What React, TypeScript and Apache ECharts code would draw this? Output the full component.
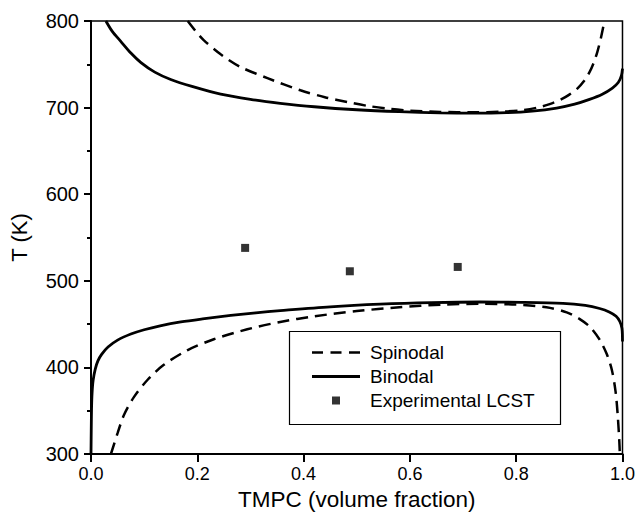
import React, { useEffect, useRef } from "react";
import * as echarts from "echarts";

const upperBinodal: [number, number][] = [
  [0.028, 800], [0.04, 788], [0.056, 776.5], [0.075, 763], [0.094, 752], [0.12, 741],
  [0.15, 732.5], [0.19, 724.5], [0.244, 715.5], [0.3, 709.5], [0.356, 705], [0.42, 701],
  [0.5, 697.5], [0.58, 695.3], [0.657, 694], [0.72, 693.6], [0.782, 694.2], [0.83, 696],
  [0.876, 699.5], [0.91, 704], [0.938, 709.5], [0.962, 715.5], [0.981, 722.6], [0.992, 729],
  [0.998, 737], [1.0, 745],
];

const upperSpinodal: [number, number][] = [
  [0.182, 800], [0.196, 789], [0.212, 778], [0.244, 761.5], [0.281, 747], [0.332, 734],
  [0.394, 720], [0.44, 712], [0.482, 706.5], [0.52, 702], [0.563, 698.5], [0.6, 696.5],
  [0.657, 695], [0.72, 694.5], [0.77, 695.3], [0.812, 697], [0.84, 700], [0.863, 704],
  [0.883, 709], [0.9, 715], [0.915, 722], [0.928, 731], [0.938, 741], [0.946, 752],
  [0.953, 765], [0.96, 782], [0.966, 800],
];

const lowerBinodal: [number, number][] = [
  [0.0, 300], [0.0005, 330], [0.001, 352], [0.002, 370], [0.004, 385], [0.008, 398],
  [0.013, 407.5], [0.02, 415], [0.032, 423.5], [0.05, 431.5], [0.075, 438.5], [0.1, 443.5],
  [0.13, 448], [0.169, 452.5], [0.21, 456], [0.263, 460], [0.31, 463], [0.356, 465.5],
  [0.45, 470], [0.544, 473], [0.64, 474.8], [0.732, 475.5], [0.81, 475.2], [0.888, 474],
  [0.93, 471.5], [0.957, 468], [0.975, 464], [0.988, 459], [0.995, 453], [0.999, 445],
  [1.0, 430],
];

const lowerSpinodal: [number, number][] = [
  [0.0375, 300], [0.05, 324], [0.062, 345], [0.081, 366], [0.107, 386], [0.137, 403],
  [0.182, 420], [0.231, 432.5], [0.294, 444], [0.356, 452.5], [0.42, 459], [0.5, 465],
  [0.58, 469.5], [0.66, 472.5], [0.732, 473.5], [0.8, 472.5], [0.857, 469.5], [0.895, 463.5],
  [0.919, 456], [0.94, 446], [0.957, 432], [0.97, 416], [0.98, 397], [0.987, 372],
  [0.991, 345], [0.994, 315], [0.995, 300],
];

const experimentalLCST: [number, number][] = [
  [0.29, 538], [0.487, 511], [0.69, 516],
];

const xTicks = [0, 0.2, 0.4, 0.6, 0.8, 1.0];
const yTicks = [300, 400, 500, 600, 700, 800];

const FONT = "'Liberation Sans', Arial, Helvetica, sans-serif";

export default function App() {
  const ref = useRef<HTMLDivElement>(null);

  useEffect(() => {
    if (!ref.current) return;
    const chart = echarts.init(ref.current, null, { renderer: "svg" });

    const dashed = { color: "#000", width: 2.5, type: [12, 7] as any };
    const solid = { color: "#000", width: 2.8, type: "solid" as const };
    const SMOOTH = 0.3;

    chart.setOption({
      animation: false,
      backgroundColor: "#fff",
      textStyle: { fontFamily: FONT, color: "#000" },
      grid: {
        left: 90,
        right: 15,
        top: 21,
        bottom: 71,
        show: true,
        borderColor: "#000",
        borderWidth: 1.5,
        backgroundColor: "transparent",
      },
      xAxis: {
        type: "value",
        min: xTicks[0],
        max: xTicks[xTicks.length - 1],
        interval: 0.2,
        name: "TMPC (volume fraction)",
        nameLocation: "middle",
        nameGap: 31,
        nameTextStyle: { fontSize: 22.5, color: "#000", fontFamily: FONT },
        axisLine: { show: true, lineStyle: { color: "#000", width: 2 } },
        axisTick: { show: true, inside: false, length: 8, lineStyle: { color: "#000", width: 2 } },
        axisLabel: {
          fontSize: 18,
          color: "#000",
          margin: 11,
          fontFamily: FONT,
          formatter: (v: number) => v.toFixed(1),
        },
        splitLine: { show: false },
      },
      yAxis: {
        type: "value",
        min: yTicks[0],
        max: yTicks[yTicks.length - 1],
        interval: 100,
        name: "T (K)",
        nameLocation: "middle",
        nameGap: 61,
        nameRotate: 90,
        nameTextStyle: { fontSize: 22, color: "#000", fontFamily: FONT },
        axisLine: { show: true, lineStyle: { color: "#000", width: 2 } },
        axisTick: { show: true, inside: false, length: 7, lineStyle: { color: "#000", width: 2 } },
        minorTick: { show: true, splitNumber: 2, length: 4, lineStyle: { color: "#000", width: 2 } },
        axisLabel: { fontSize: 20, color: "#000", margin: 12, fontFamily: FONT },
        splitLine: { show: false },
      },
      legend: {
        orient: "vertical",
        left: 312,
        top: 343,
        padding: 0,
        itemWidth: 48,
        itemHeight: 8,
        itemGap: 5,
        symbolKeepAspect: true,
        textStyle: { fontSize: 19, color: "#000", fontFamily: FONT, padding: [0, 0, 0, 5] },
        data: [
          { name: "Spinodal", icon: "path://M0,0h11v2.5h-11z M18.5,0h11v2.5h-11z M37,0h11v2.5h-11z" },
          { name: "Binodal", icon: "path://M0,0h48v2.8h-48z" },
          { name: "Experimental LCST", icon: "path://M0,0L1,0L1,1L0,1Z" },
        ],
      },
      graphic: [
        {
          type: "rect",
          left: 287,
          top: 329,
          shape: { width: 271, height: 93 },
          style: { fill: "none", stroke: "#000", lineWidth: 1.2 },
          z: 0,
        },
      ],
      series: [
        {
          name: "Spinodal",
          type: "line",
          data: upperSpinodal,
          symbol: "none",
          smooth: SMOOTH,
          lineStyle: dashed,
          itemStyle: { color: "#000" },
        },
        {
          name: "Spinodal",
          type: "line",
          data: lowerSpinodal,
          symbol: "none",
          smooth: SMOOTH,
          lineStyle: dashed,
          itemStyle: { color: "#000" },
        },
        {
          name: "Binodal",
          type: "line",
          data: upperBinodal,
          symbol: "none",
          smooth: SMOOTH,
          lineStyle: solid,
          itemStyle: { color: "#000" },
        },
        {
          name: "Binodal",
          type: "line",
          data: lowerBinodal,
          symbol: "none",
          smooth: SMOOTH,
          lineStyle: solid,
          itemStyle: { color: "#000" },
        },
        {
          name: "Experimental LCST",
          type: "scatter",
          data: experimentalLCST,
          symbol: "rect",
          symbolSize: 8,
          itemStyle: { color: "#000" },
        },
      ],
    });

    return () => chart.dispose();
  }, []);

  return <div ref={ref} style={{ width: 638, height: 525, position: "absolute", left: 0, top: 0 }} />;
}
